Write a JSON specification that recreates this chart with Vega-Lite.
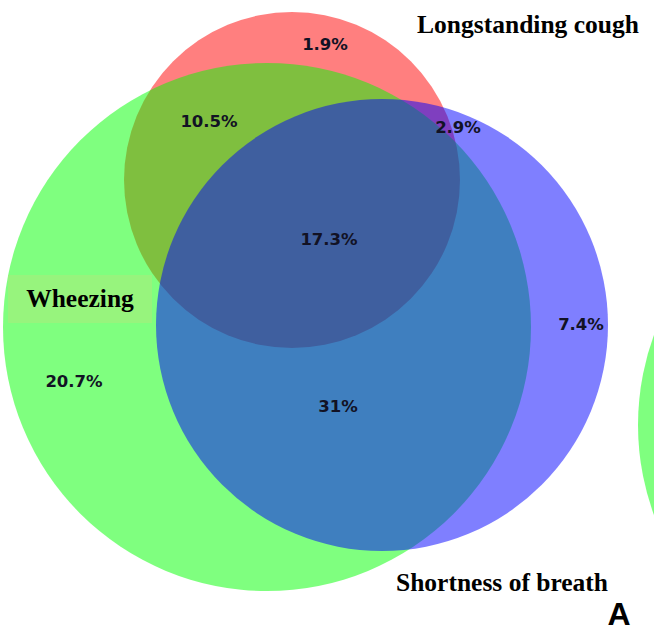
{
  "$schema": "https://vega.github.io/schema/vega-lite/v6.json",
  "width": 654,
  "height": 631,
  "padding": 0,
  "autosize": {"type": "none"},
  "background": "white",
  "config": {"view": {"stroke": null}},
  "datasets": {
    "sets": [
      {"set": "Longstanding cough", "cx": 292, "cy": 180, "r": 168},
      {"set": "Wheezing", "cx": 267, "cy": 327, "r": 264},
      {"set": "Shortness of breath", "cx": 382, "cy": 325, "r": 226},
      {"set": "Wheezing", "cx": 900, "cy": 425, "r": 262}
    ],
    "labelBox": [
      {"label": "Wheezing", "x0": 8, "x1": 152, "y0": 275, "y1": 323}
    ],
    "regions": [
      {"region": "Cough only", "value": "1.9%", "lx": 325, "ly": 45},
      {"region": "Cough & Wheezing", "value": "10.5%", "lx": 209, "ly": 122},
      {"region": "Cough & Breath", "value": "2.9%", "lx": 458, "ly": 128},
      {"region": "All three", "value": "17.3%", "lx": 329, "ly": 240},
      {"region": "Breath only", "value": "7.4%", "lx": 581, "ly": 325},
      {"region": "Wheezing only", "value": "20.7%", "lx": 74, "ly": 382},
      {"region": "Wheezing & Breath", "value": "31%", "lx": 338, "ly": 407}
    ],
    "setLabels": [
      {"text": "Longstanding cough", "lx": 528, "ly": 33},
      {"text": "Wheezing", "lx": 80, "ly": 307},
      {"text": "Shortness of breath", "lx": 502, "ly": 591}
    ],
    "panel": [
      {"text": "A", "lx": 619, "ly": 625}
    ]
  },
  "layer": [
    {
      "data": {"name": "sets"},
      "mark": {"type": "point", "shape": "circle", "filled": true, "opacity": 0.5, "strokeWidth": 0, "clip": true},
      "encoding": {
        "x": {"field": "cx", "type": "quantitative", "scale": {"domain": [0, 654], "nice": false, "zero": false}, "axis": null},
        "y": {"field": "cy", "type": "quantitative", "scale": {"domain": [0, 631], "nice": false, "zero": false, "reverse": true}, "axis": null},
        "size": {"field": "r", "type": "quantitative", "scale": {"type": "pow", "exponent": 2, "domain": [0, 300], "range": [0, 360000]}, "legend": null},
        "color": {"field": "set", "type": "nominal", "scale": {"domain": ["Longstanding cough", "Wheezing", "Shortness of breath"], "range": ["#ff0000", "#00ff00", "#0000ff"]}, "legend": null}
      }
    },
    {
      "data": {"name": "labelBox"},
      "mark": {"type": "rect", "color": "#97f47d", "clip": true},
      "encoding": {
        "x": {"field": "x0", "type": "quantitative"},
        "x2": {"field": "x1"},
        "y": {"field": "y0", "type": "quantitative"},
        "y2": {"field": "y1"}
      }
    },
    {
      "data": {"name": "regions"},
      "mark": {"type": "text", "font": "DejaVu Sans", "fontWeight": "bold", "fontSize": 16.5, "color": "#121224", "align": "center", "baseline": "middle"},
      "encoding": {
        "x": {"field": "lx", "type": "quantitative"},
        "y": {"field": "ly", "type": "quantitative"},
        "text": {"field": "value"}
      }
    },
    {
      "data": {"name": "setLabels"},
      "mark": {"type": "text", "font": "Liberation Serif", "fontWeight": "bold", "fontSize": 25.5, "color": "#000000", "align": "center", "baseline": "alphabetic"},
      "encoding": {
        "x": {"field": "lx", "type": "quantitative"},
        "y": {"field": "ly", "type": "quantitative"},
        "text": {"field": "text"}
      }
    },
    {
      "data": {"name": "panel"},
      "mark": {"type": "text", "font": "Liberation Sans", "fontWeight": "bold", "fontSize": 32, "color": "#000000", "align": "center", "baseline": "alphabetic"},
      "encoding": {
        "x": {"field": "lx", "type": "quantitative"},
        "y": {"field": "ly", "type": "quantitative"},
        "text": {"field": "text"}
      }
    }
  ]
}
